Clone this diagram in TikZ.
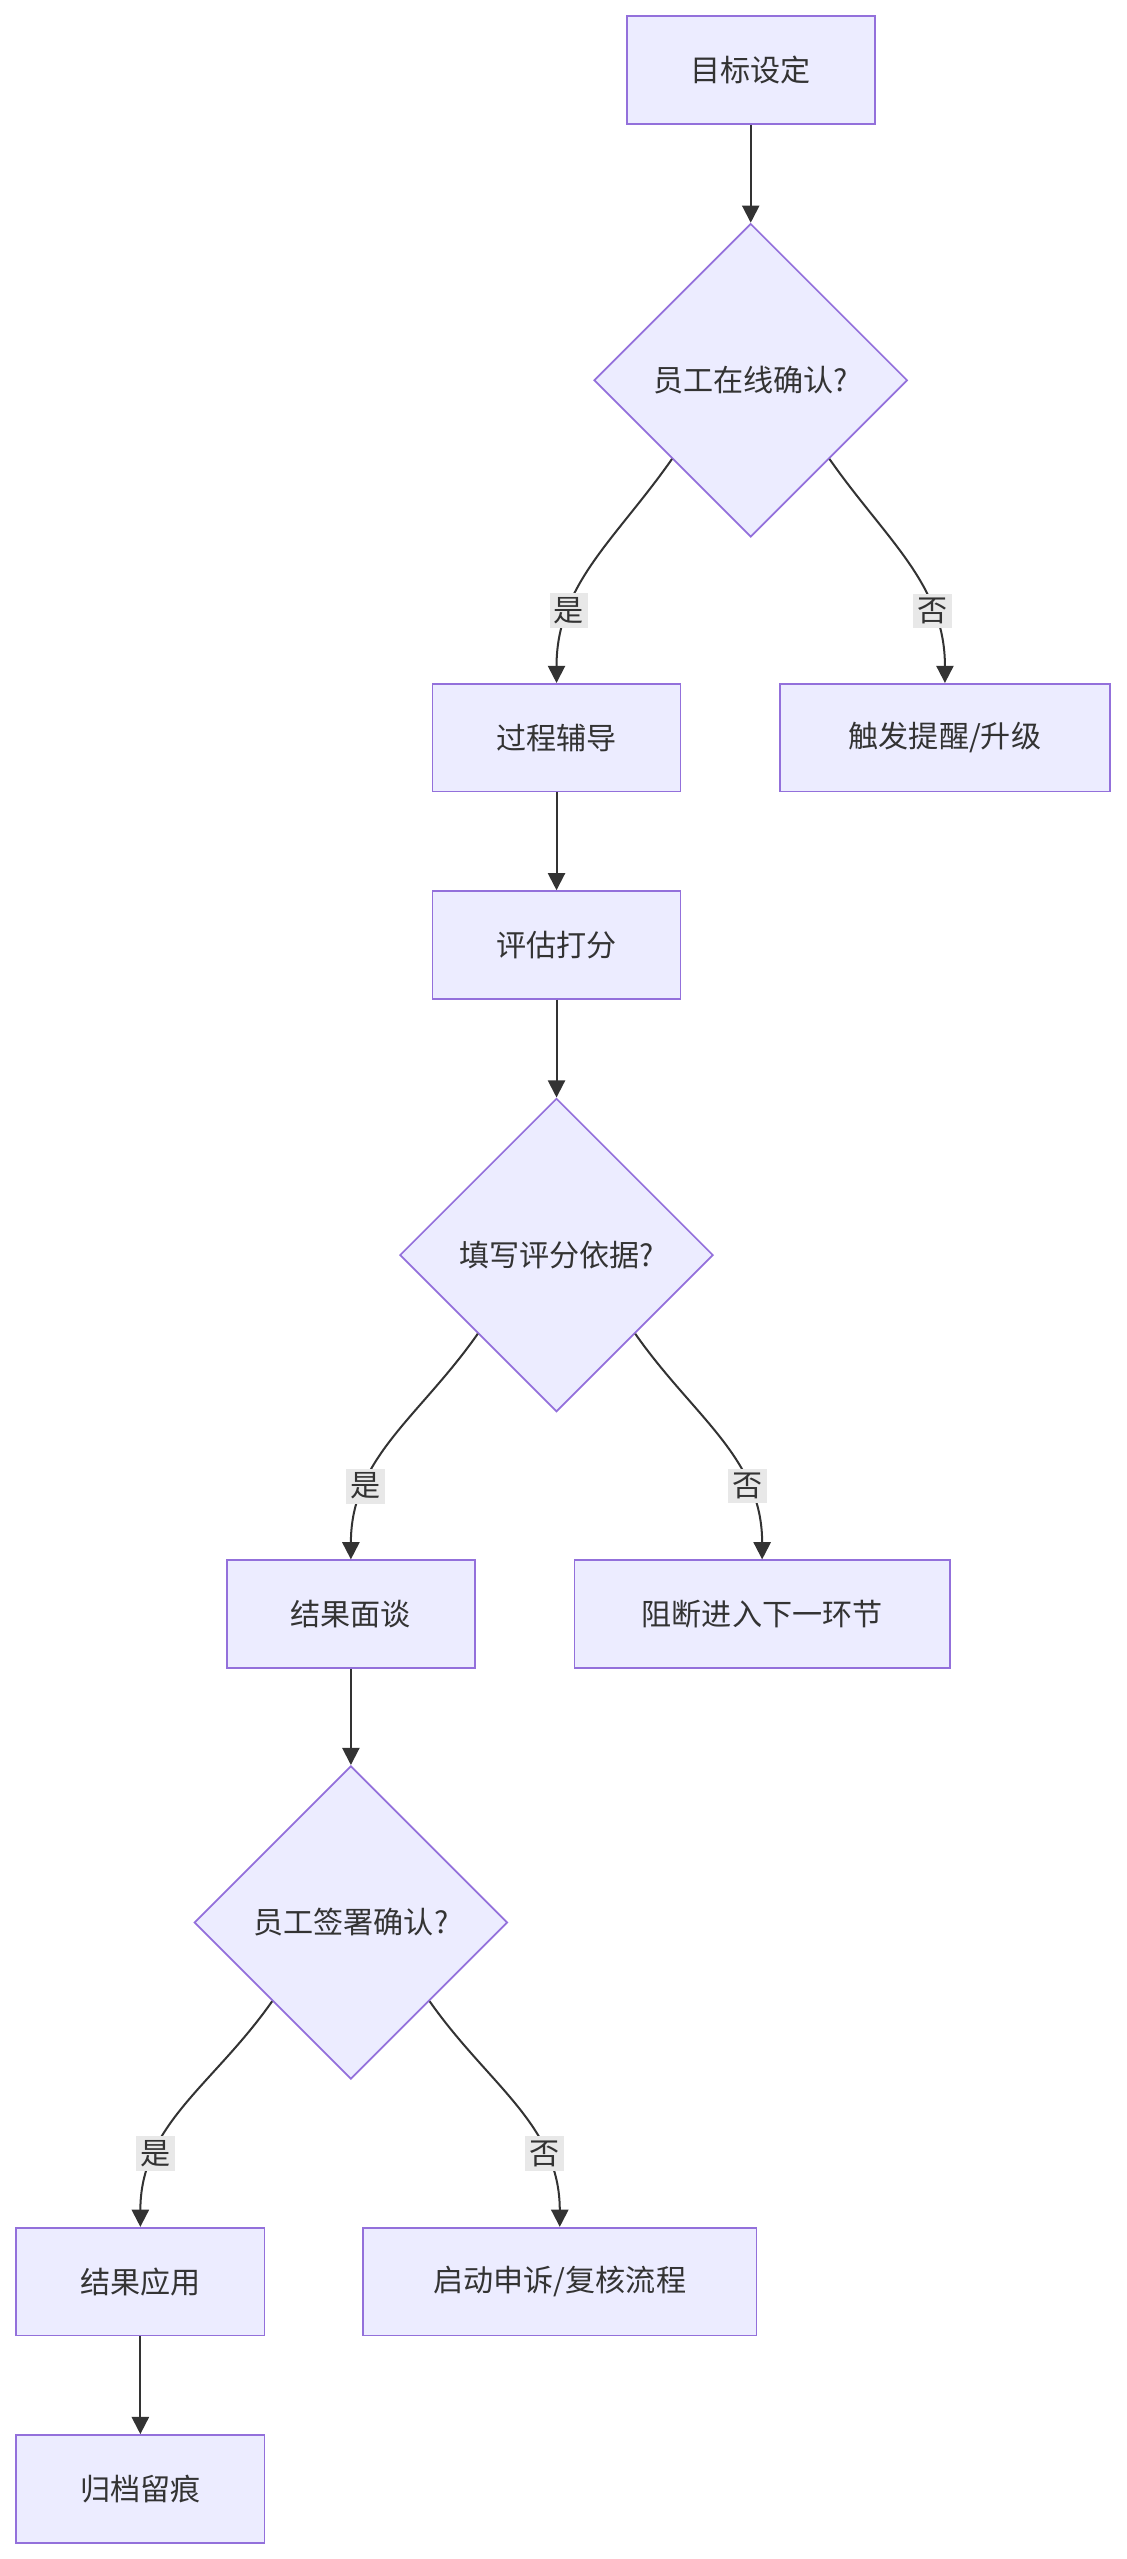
\documentclass[tikz,border=0pt]{standalone}
\usepackage{fontspec}
\newfontfamily\cjk{Noto Sans CJK SC}
\usetikzlibrary{shapes.geometric,arrows.meta}
\definecolor{boxfill}{HTML}{ECECFF}
\definecolor{boxline}{HTML}{9370DB}
\definecolor{edgeline}{HTML}{333333}
\definecolor{lblfill}{HTML}{E8E8E8}
\begin{document}
\begin{tikzpicture}[x=0.02cm, y=-0.02cm,
  every node/.style={font=\cjk\fontsize{10.5}{12}\selectfont, text=edgeline},
  proc/.style={draw=boxline, fill=boxfill, line width=0.6pt, minimum height=1.32cm, minimum width=3.04cm, inner sep=0pt},
  check/.style={diamond, aspect=1, draw=boxline, fill=boxfill, line width=0.6pt, minimum size=3.84cm, inner sep=0pt},
  flow/.style={draw=edgeline, line width=0.7pt, -{Triangle[length=6pt,width=6pt]}},
  lbl/.style={fill=lblfill, inner sep=1.5pt}]
  \useasboundingbox (0,0) rectangle (690,1568);

  % first stage
  \node[proc] (goal) at (460,43) {目标设定};
  \node[check] (online) at (460,233) {员工在线确认?};
  \node[proc] (coach) at (341,452) {过程辅导};
  \node[proc, minimum width=4.04cm] (remind) at (579,452) {触发提醒/升级};

  % second stage
  \node[proc] (score) at (341,579) {评估打分};
  \node[check] (basis) at (341,769) {填写评分依据?};
  \node[proc] (talk) at (215,989) {结果面谈};
  \node[proc, minimum width=4.6cm] (block) at (467,989) {阻断进入下一环节};

  % third stage
  \node[check] (sign) at (215,1178) {员工签署确认?};
  \node[proc] (apply) at (86,1398) {结果应用};
  \node[proc, minimum width=4.82cm] (appeal) at (343,1398) {启动申诉/复核流程};
  \node[proc] (archive) at (86,1525) {归档留痕};

  \draw[flow] (goal) -- (online);
  \draw[flow] (online.south west) to[out=235, in=90] node[lbl, pos=0.72] {是} (coach.north);
  \draw[flow] (online.south east) to[out=-55, in=90] node[lbl, pos=0.72] {否} (remind.north);
  \draw[flow] (coach) -- (score);
  \draw[flow] (score) -- (basis);
  \draw[flow] (basis.south west) to[out=235, in=90] node[lbl, pos=0.72] {是} (talk.north);
  \draw[flow] (basis.south east) to[out=-55, in=90] node[lbl, pos=0.72] {否} (block.north);
  \draw[flow] (talk) -- (sign);
  \draw[flow] (sign.south west) to[out=235, in=90] node[lbl, pos=0.72] {是} (apply.north);
  \draw[flow] (sign.south east) to[out=-55, in=90] node[lbl, pos=0.72] {否} (appeal.north);
  \draw[flow] (apply) -- (archive);
\end{tikzpicture}
\end{document}
